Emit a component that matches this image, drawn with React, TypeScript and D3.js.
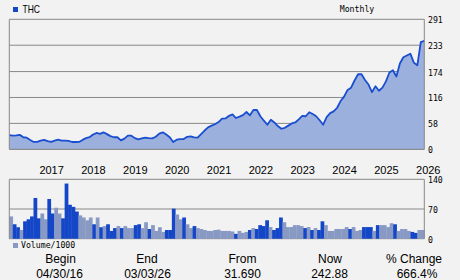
import React from "react";
import * as d3 from "d3";

const ticker = "THC";
const periodLabel = "Monthly";
const startMonth = new Date(2016, 3, 1);
const yearLabels = ["2017", "2018", "2019", "2020", "2021", "2022", "2023", "2024", "2025", "2026"];
const priceTicks = [0, 58, 116, 174, 233, 291];
const volumeTicks = [0, 70, 140];

const prices = [
  31.7, 30.5, 31, 32.5, 27, 26, 21, 16.5, 16.5, 19.3,
  21, 18.5, 16.5, 19.3, 21.5, 19.3, 19.3, 19, 16.3, 16.3,
  16.5, 21, 25, 27, 33, 36.5, 34.5, 38, 34, 29.5,
  27, 27, 20, 24, 30.5, 30.5, 25, 22.4, 24.6, 26,
  25, 24.6, 28, 35, 38, 33, 27, 16.3, 21.5, 23,
  23, 28, 29, 26.5, 26, 34, 42, 49, 53, 56,
  61, 68.5, 69, 75, 78, 70, 73, 76.5, 83.5, 76,
  88, 88, 74, 64, 55, 66, 60, 52, 46, 48,
  53, 58, 60, 67, 75, 74, 83, 79, 74, 65,
  55, 72, 81, 85, 93, 108, 118, 133, 138, 154,
  168, 168, 155, 145, 128, 141, 131, 138, 152, 172,
  177, 163, 192, 206, 210, 214, 194, 188, 240, 242.88,
];

const volumes = [
  52.5, 34, 27, 20.5, 41, 45.7, 52.5, 96, 48, 59.4,
  45.7, 93.6, 59.4, 73, 59.4, 48, 130, 80, 75, 64,
  55, 50, 43.4, 50, 34, 50, 27, 29.7, 34, 18.3,
  25, 29.7, 25, 29.7, 25, 25, 32, 34, 25, 38.8,
  22.8, 32, 18.3, 27, 16, 20.5, 20.5, 70.8, 57, 45.7,
  50, 34, 25, 29.7, 25, 22.8, 20.5, 18.3, 18.3, 20.5,
  21.3, 18.3, 18.3, 18.3, 17, 11.4, 18.3, 13.7, 16, 20.5,
  25, 22.8, 32, 29.7, 43.4, 27.4, 20.5, 25, 50, 38.8,
  27.4, 27.4, 32, 32, 29.7, 25, 27.4, 20.5, 25, 20.5,
  41, 32, 18.3, 18.3, 22.8, 22.8, 22.8, 27.4, 22.8, 27.4,
  18.3, 20.5, 27.4, 27.4, 27.4, 18.3, 32, 32, 32, 27.4,
  36.5, 34, 18.3, 22.8, 22.8, 18.3, 16, 13.7, 20.5, 20.5,
];

// U = up month (dark bar), D = down month (light bar)
const volumeDir =
  "DUUDUUUUUDDUUDDUUUUUDDDDUDUDUUUDUDDDUUDDUDDDDUUUDDUDDUDDDDDD" +
  "DDDDDUDDDUDUUUUDUUUDDDDDDUDUDUUDDDDDDDUDDDUUUDUDDDDUDDDDUUDD";

const statLabels = ["Begin", "End", "From", "Now", "% Change"];
const statValues = ["04/30/16", "03/03/26", "31.690", "242.88", "666.4%"];

const W = 460;
const H = 280;
const left = 9.3;
const right = 424.3;
const pTop = 19.3;
const pBottom = 149.3;
const vTop = 179.3;
const vBottom = 238.7;

const grid = "#888888";
const bg = "#f2f2f2";
const lineColor = "#1a4ed0";
const fillColor = "#9cb0de";
const upColor = "#1446c8";
const downColor = "#8899c4";
const mono = "'DejaVu Sans Mono', monospace";
const sans = "'Liberation Sans', Arial, sans-serif";

export default function App() {
  const n = prices.length;
  const x = d3.scaleLinear().domain([0, n - 1]).range([left, right]);
  const y = d3.scaleLinear().domain([0, 291]).range([pBottom, pTop]);
  const xb = d3
    .scaleBand<number>()
    .domain(d3.range(volumes.length))
    .range([left, right])
    .padding(0);
  const yv = d3.scaleLinear().domain([0, 140]).range([vBottom, vTop]);

  const area = d3
    .area<number>()
    .x((_, i) => x(i))
    .y0(pBottom)
    .y1((d) => y(d));
  const line = d3
    .line<number>()
    .x((_, i) => x(i))
    .y((d) => y(d));

  const monthIndex = (yr: number) =>
    d3.timeMonth.count(startMonth, new Date(yr, 0, 1));

  const statX = [60.5, 147, 242.5, 330, 414];
  const statValX = [59.5, 147.5, 242.5, 329.5, 417];

  return (
    <svg
      width={W}
      height={H}
      style={{ position: "absolute", left: 0, top: 0, display: "block" }}
    >
      <rect x={0} y={0} width={W} height={H} fill={bg} />

      {/* legend */}
      <rect x={13} y={7} width={5} height={5} fill={upColor} />
      <text x={22.5} y={13} fontFamily="'Liberation Sans Narrow', 'Liberation Sans', sans-serif" fontSize={11} textLength={17.5} lengthAdjust="spacingAndGlyphs">
        {ticker}
      </text>
      <text x={357} y={12} fontFamily={mono} fontSize={8.2} textAnchor="middle">
        {periodLabel}
      </text>

      {/* price gridlines */}
      {priceTicks.map((t, i) => (
        <line key={"g" + i} x1={left} x2={right} y1={y(t)} y2={y(t)} stroke={grid} strokeWidth={1} />
      ))}
      <path d={area(prices) || ""} fill={fillColor} />
      <path d={line(prices) || ""} fill="none" stroke={lineColor} strokeWidth={1.8} strokeLinejoin="round" />
      <line x1={left} x2={left} y1={pTop} y2={pBottom} stroke={grid} />
      <line x1={right} x2={right} y1={pTop} y2={pBottom} stroke={grid} />
      <line x1={left} x2={right} y1={pBottom} y2={pBottom} stroke={grid} />
      {priceTicks.map((t, i) => (
        <text key={"pt" + i} x={428} y={y(t) + 1.5} fontFamily={mono} fontSize={8.2} dominantBaseline="middle">
          {t}
        </text>
      ))}

      {/* year labels */}
      {yearLabels.map((yl) => (
        <text key={yl} x={x(monthIndex(+yl)) - 1.3} y={174} fontFamily={sans} fontSize={11}>
          {yl}
        </text>
      ))}

      {/* volume panel */}
      {volumeTicks.map((t, i) => (
        <line key={"vg" + i} x1={left} x2={right} y1={yv(t)} y2={yv(t)} stroke={grid} />
      ))}
      {volumes.map((v, i) => (
        <rect
          key={"v" + i}
          x={xb(i)}
          y={yv(v)}
          width={xb.bandwidth() + 0.3}
          height={vBottom - yv(v)}
          fill={volumeDir[i] === "U" ? upColor : downColor}
        />
      ))}
      <line x1={left} x2={left} y1={vTop} y2={vBottom} stroke={grid} />
      <line x1={right} x2={right} y1={vTop} y2={vBottom} stroke={grid} />
      {volumeTicks.map((t, i) => (
        <text key={"vt" + i} x={428} y={yv(t) + 1.5} fontFamily={mono} fontSize={8.2} dominantBaseline="middle">
          {t}
        </text>
      ))}
      <rect x={13} y={243} width={5} height={5} fill={downColor} />
      <text x={21} y={248} fontFamily={mono} fontSize={8.2}>
        Volume/1000
      </text>

      {/* stats */}
      {statLabels.map((s, i) => (
        <text key={"sl" + i} x={statX[i]} y={263} fontFamily={sans} fontSize={12} textAnchor="middle">
          {s}
        </text>
      ))}
      {statValues.map((s, i) => (
        <text key={"sv" + i} x={statValX[i]} y={277.5} fontFamily={sans} fontSize={12} textAnchor="middle">
          {s}
        </text>
      ))}
    </svg>
  );
}
